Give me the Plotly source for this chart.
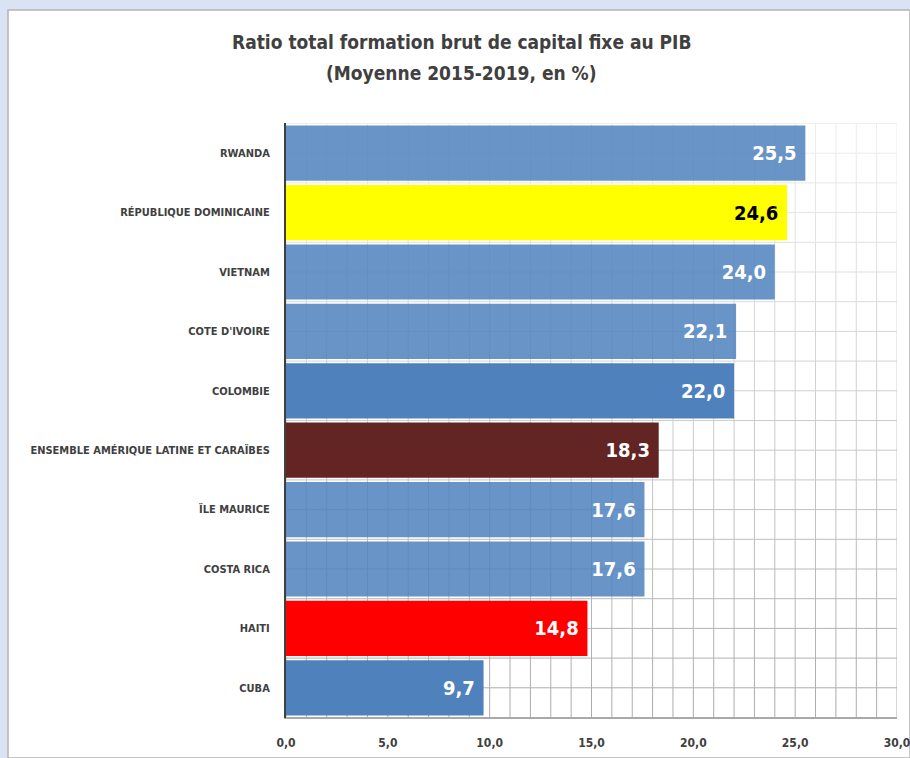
import plotly.graph_objects as go

# Average gross fixed capital formation, % of GDP (2015-2019)
countries = [
    "RWANDA",
    "RÉPUBLIQUE DOMINICAINE",
    "VIETNAM",
    "COTE D'IVOIRE",
    "COLOMBIE",
    "ENSEMBLE AMÉRIQUE LATINE ET CARAÏBES",
    "ÏLE MAURICE",
    "COSTA RICA",
    "HAITI",
    "CUBA",
]
ratios = [25.5, 24.6, 24.0, 22.1, 22.0, 18.3, 17.6, 17.6, 14.8, 9.7]
bar_colors = ["#4f81bd", "#ffff00", "#4f81bd", "#4f81bd", "#4f81bd",
              "#632523", "#4f81bd", "#4f81bd", "#ff0000", "#4f81bd"]
bar_opacity = [0.85, 1, 0.85, 0.85, 1, 1, 0.85, 0.85, 1, 1]
label_colors = ["white", "black", "white", "white", "white",
                "white", "white", "white", "white", "white"]
x_ticks = [0, 5, 10, 15, 20, 25, 30]
title_lines = ["Ratio total formation brut de capital fixe au PIB",
               "(Moyenne 2015-2019, en %)"]

FONT = "DejaVu Sans Condensed, Liberation Sans Narrow, Roboto, sans-serif"
TXT = "#404040"

W, H = 910, 758
L, R, T, B = 286, 13, 123, 40
PW, PH = W - L - R, H - T - B
x_max = 30

fig = go.Figure(go.Bar(
    x=ratios,
    y=countries,
    orientation="h",
    marker=dict(color=bar_colors, opacity=bar_opacity, line=dict(width=0)),
    texttemplate="<b>%{x:.1f}</b> ",
    textposition="inside",
    insidetextanchor="end",
    textfont=dict(family=FONT, size=20, color=label_colors),
    hoverinfo="skip",
))

shapes = []
# white chart panel inside the light-blue frame (kept within the figure)
shapes.append(dict(type="rect", xref="paper", yref="paper",
                   x0=(8 - L) / PW, x1=(W - L) / PW,
                   y0=-B / PH, y1=(H - B - 10) / PH,
                   fillcolor="white", line=dict(color="#b4b4b4", width=1.5),
                   layer="below"))

# gridlines fade from light at the top to darker at the bottom
def grey(frac):
    v = int(round(238 - (238 - 170) * frac))
    return f"rgb({v},{v},{v})"

n = len(countries)
steps = 2 * n
for k in range(steps + 1):
    yv = -0.5 + k * 0.5
    shapes.append(dict(type="line", xref="x", yref="y", x0=0, x1=x_max,
                       y0=yv, y1=yv, layer="below",
                       line=dict(color=grey(k / steps), width=1)))
for xv in range(0, x_max + 1):
    for k in range(steps):
        y0 = -0.5 + k * 0.5
        shapes.append(dict(type="line", xref="x", yref="y", x0=xv, x1=xv,
                           y0=y0, y1=y0 + 0.5, layer="below",
                           line=dict(color=grey((k + 0.5) / steps), width=1)))

# two-line title, each line placed separately for wider line spacing
title_ann = []
for line, ypx in zip(title_lines, [42, 73]):
    title_ann.append(dict(
        text=f"<b>{line}</b>",
        xref="paper", yref="paper",
        x=(461 - L) / PW, xanchor="center",
        y=(H - B - ypx) / PH, yanchor="middle",
        showarrow=False,
        font=dict(family=FONT, size=19, color=TXT),
    ))

fig.update_layout(
    width=W, height=H,
    margin=dict(l=L, r=R, t=T, b=B, pad=0, autoexpand=False),
    paper_bgcolor="#dae3f3",
    plot_bgcolor="rgba(0,0,0,0)",
    separators=", ",
    bargap=0.07,
    showlegend=False,
    shapes=shapes,
    annotations=title_ann,
    xaxis=dict(
        range=[0, x_max], tickvals=x_ticks, tickformat=".1f",
        showgrid=False, zeroline=False,
        showline=True, linecolor="#a8a8a8", linewidth=1,
        ticks="", ticklabelstandoff=14, ticklabeloverflow="allow",
        tickfont=dict(family=FONT, size=12, color=TXT, weight="bold"),
        fixedrange=True,
    ),
    yaxis=dict(
        type="category", categoryorder="array", categoryarray=countries,
        autorange="reversed",
        showgrid=False, zeroline=False,
        showline=True, linecolor="#404040", linewidth=2,
        ticks="", ticklabelstandoff=12,
        tickfont=dict(family=FONT, size=11, color=TXT, weight="bold"),
        fixedrange=True,
    ),
)

fig.write_html("out.html", config={"displayModeBar": False})
